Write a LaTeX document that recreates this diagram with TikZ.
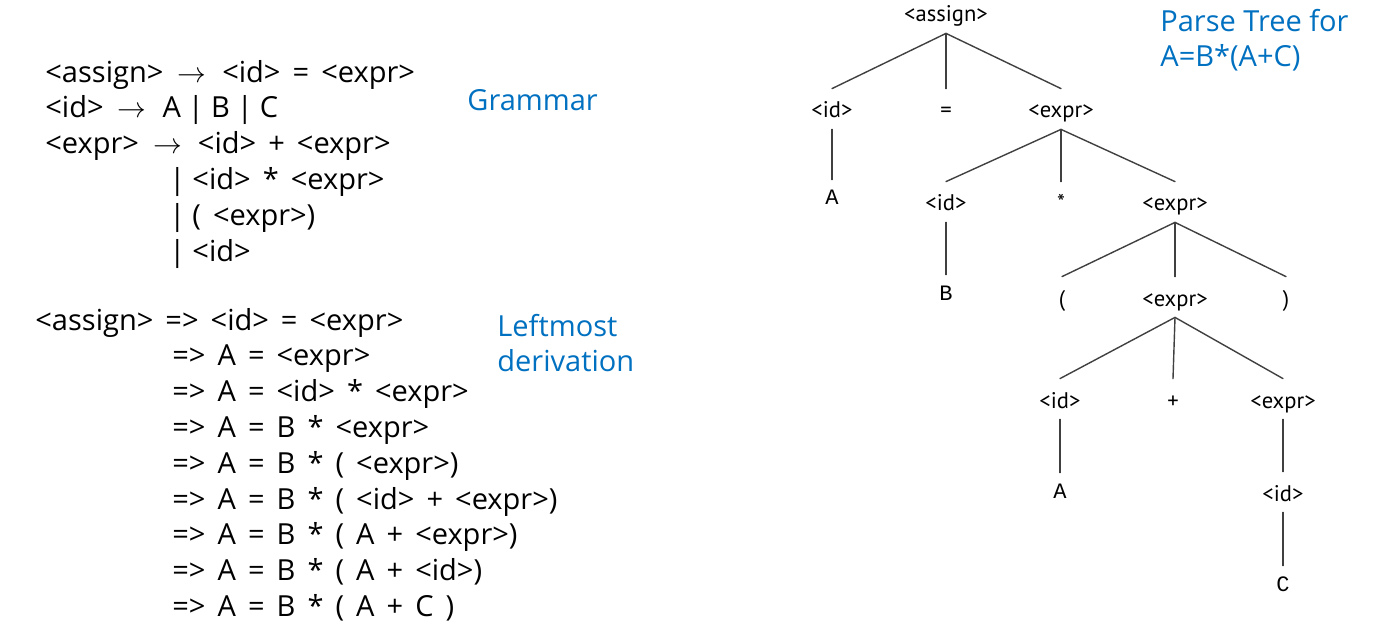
\documentclass[tikz,border=0pt]{standalone}
\usepackage{fontspec}
\setmainfont{Open Sans}
\newfontfamily\gramfont{Open Sans}[WordSpace=1.6]
\newfontfamily\treefont{PT Sans}
\newfontfamily\leaffont{Liberation Mono}
\usetikzlibrary{positioning}
\definecolor{noteblue}{HTML}{0070C0}
\definecolor{treegray}{HTML}{404040}
\newcommand{\yields}{\kern1pt$\rightarrow$\kern2pt}
\newcommand{\vb}{\kern-2.5pt|\kern-2.5pt}
\tikzstyle{every path}=[line cap=round,line join=round]
\tikzstyle{gram}=[font=\gramfont\fontsize{14.5}{17}\selectfont, anchor=base west, inner sep=0pt]
\tikzstyle{note}=[font=\fontsize{14.5}{17}\selectfont, text=noteblue, anchor=base west, inner sep=0pt]
\tikzstyle{sym}=[font=\treefont\fontsize{11.3}{13}\selectfont, anchor=base, text height=10pt, text depth=1pt, inner sep=4.5pt]
\tikzstyle{term}=[sym, font=\leaffont\fontsize{11}{12}\selectfont, text height=8pt]
\tikzstyle{branch}=[treegray, line width=0.7pt]

\begin{document}
\begin{tikzpicture}[x=0.5pt,y=-0.5pt]
  \useasboundingbox (0,0) rectangle (1377,631);

  % grammar
  \node[gram] (g1) at (45,83) {<assign> \yields\ <id> = <expr>};
  \node[gram] (g2) at (45,118) {<id> \yields\ A \vb\ B \vb\ C};
  \node[gram] (g3) at (45,154) {<expr> \yields\ <id> + <expr>};
  \foreach \txt [count=\i from 4] in {{\vb\ <id> * <expr>}, {\vb\ ( <expr>)}, {\vb\ <id>}}
    \node[gram] (g\i) at (174,{154+36*(\i-3)}) {\txt};
  \node[note] (gramlbl) at (467,111) {Grammar};

  % leftmost derivation
  \node[gram] (d1) at (35,330) {<assign> => <id> = <expr>};
  \foreach \txt [count=\i from 2] in {{=> A = <expr>}, {=> A = <id> * <expr>},
      {=> A = B * <expr>}, {=> A = B * ( <expr>)}, {=> A = B * ( <id> + <expr>)},
      {=> A = B * ( A + <expr>)}, {=> A = B * ( A + <id>)}, {=> A = B * ( A + C )}}
    \node[gram] (d\i) at (172,{330+35.8*(\i-1)}) {\txt};
  \node[note] (lmlbl) at (497,336) {Leftmost};
  \node[note] (dvlbl) at (497,371) {derivation};

  % parse tree
  \node[note] (ttl1) at (1160,32) {Parse Tree for};
  \node[note] (ttl2) at (1160,67) {A=B*(A+C)};

  \node[sym] (asg) at (946,22) {<assign>};
  \node[sym] (id1) at (832,118) {<id>};
  \node[sym] (eq) at (946,118) {=};
  \node[sym] (ex1) at (1061,118) {<expr>};
  \node[term] (a1) at (832,205) {A};
  \node[sym] (id2) at (946,211) {<id>};
  \node[sym] (star) at (1061,211) {*};
  \node[sym] (ex2) at (1175,211) {<expr>};
  \node[term] (b1) at (946,300) {B};
  \node[sym] (lp) at (1062,306) {(};
  \node[sym] (ex3) at (1175,306) {<expr>};
  \node[sym] (rp) at (1286,306) {)};
  \node[sym] (id3) at (1060,408) {<id>};
  \node[sym] (plus) at (1173,408) {+};
  \node[sym] (ex4) at (1283,408) {<expr>};
  \node[term] (a2) at (1060,498) {A};
  \node[sym] (id4) at (1283,501) {<id>};
  \node[term] (c1) at (1283,591) {C};

  \foreach \p/\c in {asg/id1, asg/eq, asg/ex1, id1/a1, ex1/id2, ex1/star, ex1/ex2,
      id2/b1, ex2/lp, ex2/ex3, ex2/rp, ex3/id3, ex3/plus, ex3/ex4, id3/a2,
      ex4/id4, id4/c1}
    \draw[branch] (\p.south) -- (\c.north);
\end{tikzpicture}
\end{document}
